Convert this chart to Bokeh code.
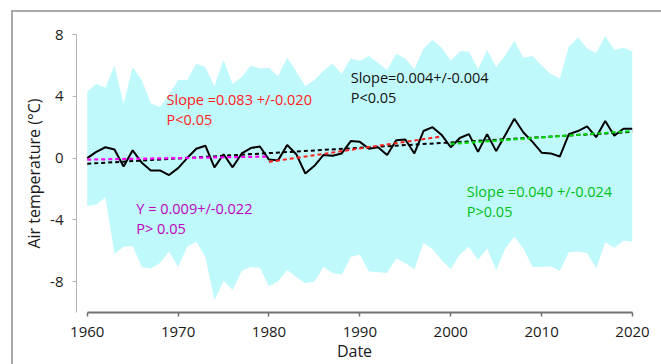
from bokeh.plotting import figure
from bokeh.models import Range1d, FixedTicker, Label, InlineStyleSheet
from bokeh.embed import file_html
from bokeh.resources import INLINE

years = list(range(1960, 2021))
mean_temp = [0.0, 0.4, 0.7, 0.55, -0.55, 0.5, -0.3, -0.8, -0.8, -1.1,
             -0.65, 0.0, 0.6, 0.8, -0.6, 0.25, -0.6, 0.3, 0.65, 0.75,
             -0.1, -0.15, 0.85, 0.25, -1.0, -0.5, 0.2, 0.15, 0.3, 1.1,
             1.05, 0.6, 0.7, 0.2, 1.15, 1.2, 0.3, 1.75, 2.0, 1.5,
             0.7, 1.3, 1.55, 0.4, 1.55, 0.45, 1.5, 2.55, 1.65, 1.05,
             0.35, 0.3, 0.1, 1.55, 1.75, 2.05, 1.35, 2.4, 1.45, 1.9, 1.9]
upper = [4.3, 4.8, 4.55, 6.0, 3.5, 5.9, 5.05, 3.55, 3.3, 4.1,
         5.05, 5.05, 6.1, 5.9, 4.65, 6.35, 4.8, 5.25, 6.0, 5.8,
         5.85, 5.3, 6.5, 5.6, 4.65, 5.05, 5.65, 6.1, 5.45, 6.45,
         6.3, 6.6, 6.15, 5.7, 6.75, 6.45, 5.75, 7.1, 7.65, 7.15,
         6.3, 6.9, 6.9, 5.75, 7.0, 5.9, 6.65, 7.6, 6.5, 6.6,
         6.0, 5.45, 5.15, 7.2, 7.8, 7.1, 6.8, 7.9, 7.0, 7.15, 6.9]
lower = [-3.1, -3.0, -2.55, -6.2, -5.75, -5.7, -7.05, -7.15, -6.8, -6.05,
         -7.05, -5.75, -5.4, -6.4, -9.2, -7.95, -8.55, -7.3, -7.05, -7.1,
         -8.3, -8.0, -7.25, -7.7, -8.1, -8.0, -7.05, -7.45, -7.55, -6.4,
         -6.25, -7.35, -7.4, -7.45, -6.5, -6.8, -7.2, -5.5, -5.9, -6.6,
         -7.2, -6.25, -5.75, -6.6, -5.85, -7.25, -5.85, -5.1, -5.85, -7.05,
         -7.05, -7.0, -7.3, -6.1, -6.05, -6.15, -7.15, -5.45, -5.8, -5.35, -5.4]

trend_all_x = [1960, 2020]
trend_all_y = [-0.37, 1.70]
trend_6080_x = [1960, 1980]
trend_6080_y = [-0.10, 0.10]
trend_8000_x = [1980, 1999]
trend_8000_y = [-0.25, 1.40]
trend_0020_x = [2000, 2020]
trend_0020_y = [0.92, 1.75]

x_ticks = [1960, 1970, 1980, 1990, 2000, 2010, 2020]
y_ticks = [-8, -4, 0, 4, 8]
y_tick_labels = {-8: "-8", -4: "-4", 0: "0", 4: "4", 8: "8"}

FONT = "Open Sans"

frame_css = InlineStyleSheet(css="""
:host { position: relative; }
:host::after {
  content: ""; position: absolute; left: 11px; top: 10px; right: 0; bottom: 0;
  border-top: 2px solid #a8a8a8; border-left: 2px solid #a8a8a8;
  pointer-events: none; z-index: 10;
}
""")

p = figure(width=661, height=364, output_backend="svg", toolbar_location=None,
           x_range=Range1d(1958.82, 2020), y_range=Range1d(-10, 8),
           min_border_left=76, min_border_right=29, min_border_top=34,
           min_border_bottom=51, stylesheets=[frame_css])
p.outline_line_color = None
p.grid.visible = False
p.background_fill_color = "white"

p.varea(x=years, y1=lower, y2=upper, fill_color="#c0f9fb", fill_alpha=1.0)
p.line(years, mean_temp, line_color="black", line_width=2)
p.line(trend_all_x, trend_all_y, line_color="black", line_width=2, line_dash="4 3")
p.line(trend_6080_x, trend_6080_y, line_color="#ff00ff", line_width=2.2, line_dash="4 3")
p.line(trend_8000_x, trend_8000_y, line_color="#ff2020", line_width=2, line_dash="4 3")
p.line(trend_0020_x, trend_0020_y, line_color="#00dd00", line_width=2.2, line_dash="4 3")

xa = p.xaxis[0]
xa.ticker = FixedTicker(ticks=x_ticks)
xa.bounds = (1960, 2020)
xa.axis_line_color = "#707070"
xa.axis_line_width = 2
xa.major_tick_line_color = "#707070"
xa.major_tick_line_width = 1.5
xa.major_tick_out = 4
xa.major_tick_in = 0
xa.minor_tick_line_color = None
xa.major_label_text_font = FONT
xa.major_label_text_font_size = "15px"
xa.major_label_text_color = "#1a1a1a"
xa.major_label_standoff = 10
xa.axis_label = "Date"
xa.axis_label_text_font = FONT
xa.axis_label_text_font_size = "16px"
xa.axis_label_text_font_style = "normal"
xa.axis_label_text_color = "#1a1a1a"
xa.axis_label_standoff = 0

ya = p.yaxis[0]
ya.ticker = FixedTicker(ticks=y_ticks)
ya.major_label_overrides = y_tick_labels
ya.bounds = (-10, 8)
ya.axis_line_color = "#b4b4b4"
ya.axis_line_width = 1
ya.major_tick_line_color = "#b4b4b4"
ya.major_tick_out = 4
ya.major_tick_in = 0
ya.minor_tick_line_color = None
ya.major_label_text_font = FONT
ya.major_label_text_font_size = "15px"
ya.major_label_text_color = "#1a1a1a"
ya.major_label_standoff = 9
ya.axis_label = "Air temperature (°C)"
ya.axis_label_text_font = FONT
ya.axis_label_text_font_size = "16px"
ya.axis_label_text_font_style = "normal"
ya.axis_label_text_color = "#1a1a1a"
ya.axis_label_standoff = 2

def add_label(x, y, text, color):
    p.add_layout(Label(x=x, y=y, text=text, text_color=color, text_font=FONT,
                       text_font_size="14.5px", text_baseline="middle",
                       text_align="left"))

add_label(1968.73, 3.79, "Slope =0.083 +/-0.020", "#ff2020")
add_label(1968.73, 2.50, "P<0.05", "#ff2020")
add_label(1988.99, 5.20, "Slope=0.004+/-0.004", "#111111")
add_label(1988.99, 3.92, "P<0.05", "#111111")
add_label(1965.40, -3.25, "Y = 0.009+/-0.022", "#c000c0")
add_label(1965.40, -4.54, "P> 0.05", "#c000c0")
add_label(2001.76, -2.17, "Slope =0.040 +/-0.024", "#00c020")
add_label(2001.76, -3.46, "P>0.05", "#00c020")

open("out.html", "w").write(file_html(p, INLINE))
